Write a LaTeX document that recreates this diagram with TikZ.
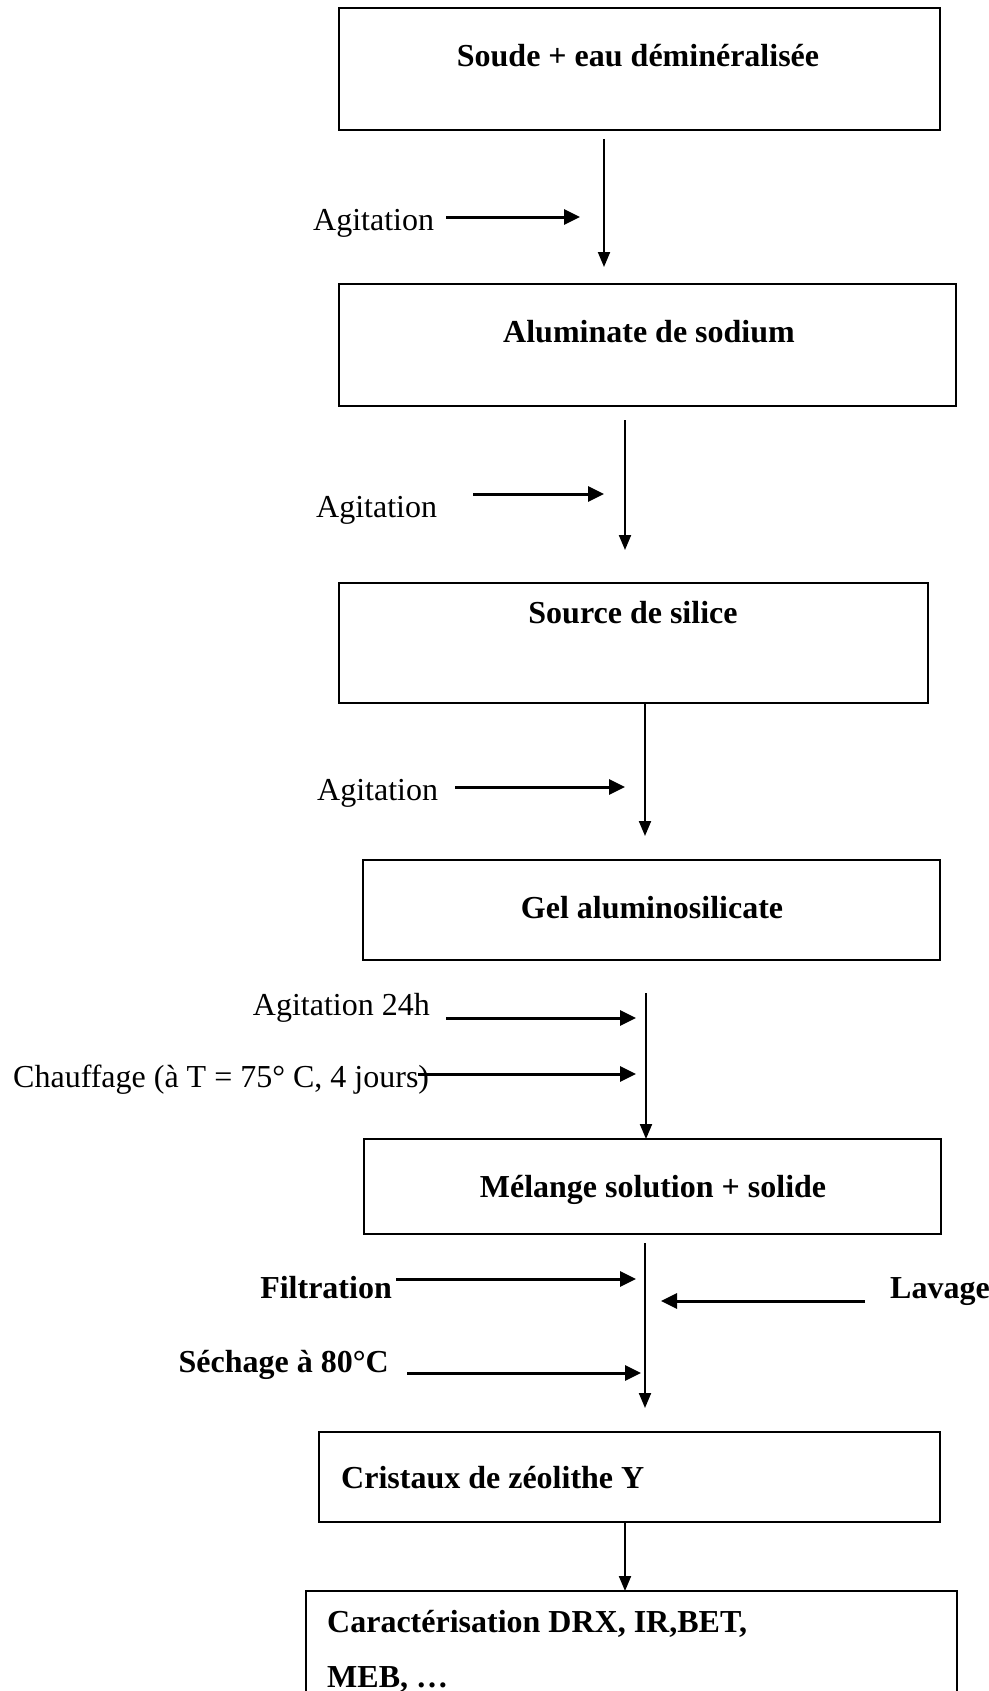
\documentclass[tikz,border=0pt]{standalone}
\usepackage{fontspec}
\setmainfont{Liberation Serif}
\usetikzlibrary{arrows.meta}
\begin{document}
\begin{tikzpicture}[x=1pt,y=-1pt,
  box/.style={draw, line width=2.4pt, rectangle, inner sep=0pt, outer sep=0pt},
  txt/.style={font=\fontsize{32}{38}\selectfont, inner sep=0pt, anchor=base},
  btxt/.style={txt, font=\fontsize{32}{38}\selectfont\bfseries},
  flow/.style={line width=2pt, -{Triangle[length=15pt,width=12pt]}},
  feed/.style={line width=3pt, -{Triangle[length=16pt,width=15pt]}},
]
\path[use as bounding box] (0,0) rectangle (988,1691);
\clip (0,0) rectangle (988,1691);

% process steps
\node[box, minimum width=601pt, minimum height=122pt] (b1) at (639.5,69) {};
\node[btxt] (t1) at (638,67) {Soude + eau déminéralisée};

\node[box, minimum width=617pt, minimum height=122pt] (b2) at (647.5,345) {};
\node[btxt] (t2) at (649,342) {Aluminate de sodium};

\node[box, minimum width=589pt, minimum height=120pt] (b3) at (633.5,643) {};
\node[btxt] (t3) at (633,623) {Source de silice};

\node[box, minimum width=577pt, minimum height=100pt] (b4) at (651.5,910) {};
\node[btxt] (t4) at (652,918) {Gel aluminosilicate};

\node[box, minimum width=577pt, minimum height=95pt] (b5) at (652.5,1186.5) {};
\node[btxt] (t5) at (653,1197) {Mélange solution + solide};

\node[box, minimum width=621pt, minimum height=90pt] (b6) at (629.5,1477) {};
\node[btxt, anchor=base west] (t6) at (341,1488) {Cristaux de zéolithe Y};

\node[box, minimum width=651pt, minimum height=180pt] (b7) at (631.5,1681) {};
\node[btxt, anchor=base west] (t7a) at (327,1632) {Caractérisation DRX, IR,BET,};
\node[btxt, anchor=base west] (t7b) at (327,1687) {MEB, …};

% side labels
\node[txt, anchor=base west] (ag1) at (313,230) {Agitation};
\node[txt, anchor=base west] (ag2) at (316,517) {Agitation};
\node[txt, anchor=base west] (ag3) at (317,800) {Agitation};
\node[txt, anchor=base east] (ag4) at (430,1015) {Agitation 24h};
\node[txt, anchor=base west] (ch) at (13,1087) {Chauffage (à T = 75° C, 4 jours)};
\node[btxt, anchor=base east] (fi) at (392,1298) {Filtration};
\node[btxt, anchor=base west] (la) at (890,1298) {Lavage};
\node[btxt, anchor=base east] (se) at (389,1372) {Séchage à 80°C};

% main flow
\coordinate (v1a) at (604,139);
\coordinate (v1b) at (604,267);
\draw[flow] (v1a) -- (v1b);
\coordinate (v2a) at (625,420);
\coordinate (v2b) at (625,550);
\draw[flow] (v2a) -- (v2b);
\coordinate (v3b) at (645,836);
\draw[flow] (b3.south -| v3b) -- (v3b);
\coordinate (v4a) at (646,993);
\draw[flow] (v4a) -- (v4a |- b5.north);
\coordinate (v5a) at (645,1243);
\coordinate (v5b) at (645,1408);
\draw[flow] (v5a) -- (v5b);
\coordinate (v6) at (625,1522);
\draw[flow] (b6.south -| v6) -- (b7.north -| v6);

% operations feeding the flow
\coordinate (h1a) at (446,217);
\coordinate (h1b) at (580,217);
\draw[feed] (h1a) -- (h1b);
\coordinate (h2a) at (473,494);
\coordinate (h2b) at (604,494);
\draw[feed] (h2a) -- (h2b);
\coordinate (h3a) at (455,787);
\coordinate (h3b) at (625,787);
\draw[feed] (h3a) -- (h3b);
\coordinate (h4a) at (446,1018);
\coordinate (h4b) at (636,1018);
\draw[feed] (h4a) -- (h4b);
\coordinate (h5a) at (418,1074);
\coordinate (h5b) at (636,1074);
\draw[feed] (h5a) -- (h5b);
\coordinate (h6a) at (396,1279);
\coordinate (h6b) at (636,1279);
\draw[feed] (h6a) -- (h6b);
\coordinate (h7a) at (865,1301);
\coordinate (h7b) at (661,1301);
\draw[feed] (h7a) -- (h7b);
\coordinate (h8a) at (407,1373);
\coordinate (h8b) at (641,1373);
\draw[feed] (h8a) -- (h8b);
\end{tikzpicture}
\end{document}
